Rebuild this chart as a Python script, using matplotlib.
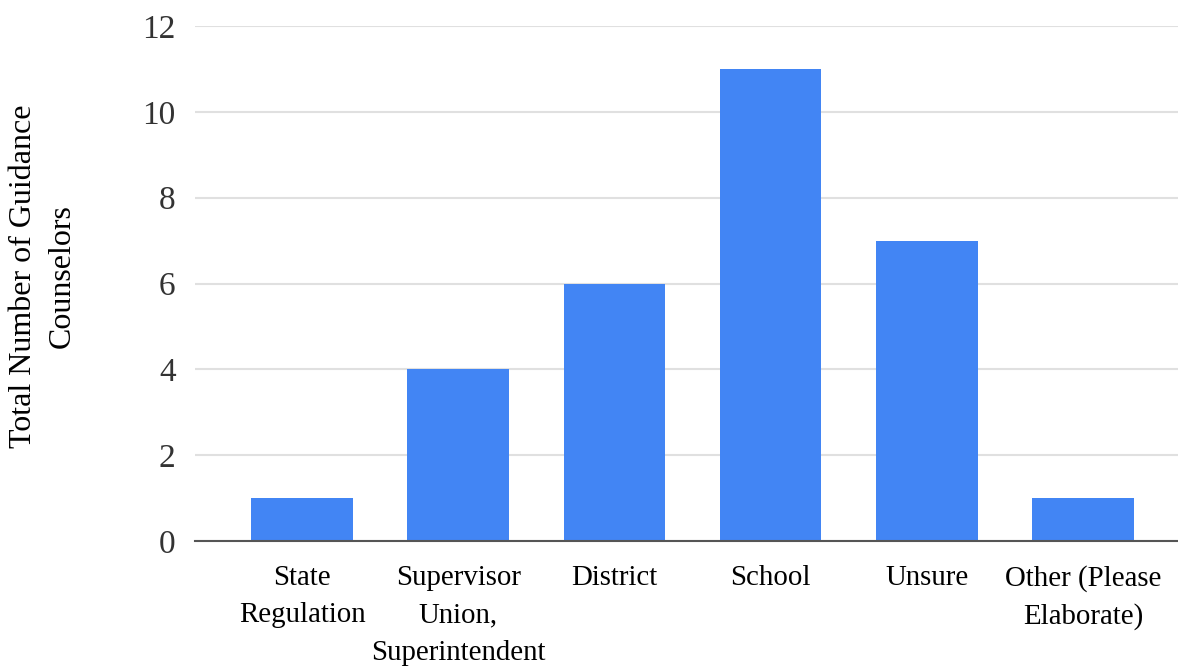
import matplotlib

matplotlib.use("Agg")
import matplotlib.pyplot as plt

# Survey responses
categories = [
    "State\nRegulation",
    "Supervisor\nUnion,\nSuperintendent",
    "District",
    "School",
    "Unsure",
    "Other (Please\nElaborate)",
]
counts = [1, 4, 6, 11, 7, 1]
y_ticks = [0, 2, 4, 6, 8, 10, 12]
y_label = "Total Number of Guidance\nCounselors"

plt.rcParams["font.family"] = ["Liberation Serif", "DejaVu Serif"]

W, H = 1178, 667
fig = plt.figure(figsize=(W / 100, H / 100), dpi=100)
ax = fig.add_axes([195 / W, 1 - 541 / H, (W - 195) / W, (541 - 26) / H])

x = range(len(categories))
ax.bar(x, counts, width=0.65, color="#4285F4", zorder=3)

ax.set_xlim(-0.685, 5.608)
ax.set_ylim(0, 12)
ax.set_yticks(y_ticks)
ax.set_yticklabels([str(t) for t in y_ticks], fontsize=24, color="#333333")
ax.set_xticks(list(x))
ax.set_xticklabels(categories, fontsize=20.8, color="black", va="top")
for lbl in ax.get_xticklabels():
    lbl.set_linespacing(1.58)
ax.tick_params(axis="both", length=0)
ax.tick_params(axis="y", pad=14)
ax.tick_params(axis="x", pad=17)

ax.grid(axis="y", color="#e0e0e0", linewidth=1.5, zorder=0)
for side in ["top", "right", "left"]:
    ax.spines[side].set_visible(False)
ax.spines["bottom"].set_color("#555555")
ax.spines["bottom"].set_linewidth(1.5)
ax.spines["bottom"].set_zorder(4)

# y label placed as figure text so both lines sit where the reference has them
fig.text(43 / W, 1 - 276 / H, y_label, fontsize=23, rotation=90,
         ha="center", va="center", multialignment="center", linespacing=1.45)

fig.savefig("out.png", dpi=100)
